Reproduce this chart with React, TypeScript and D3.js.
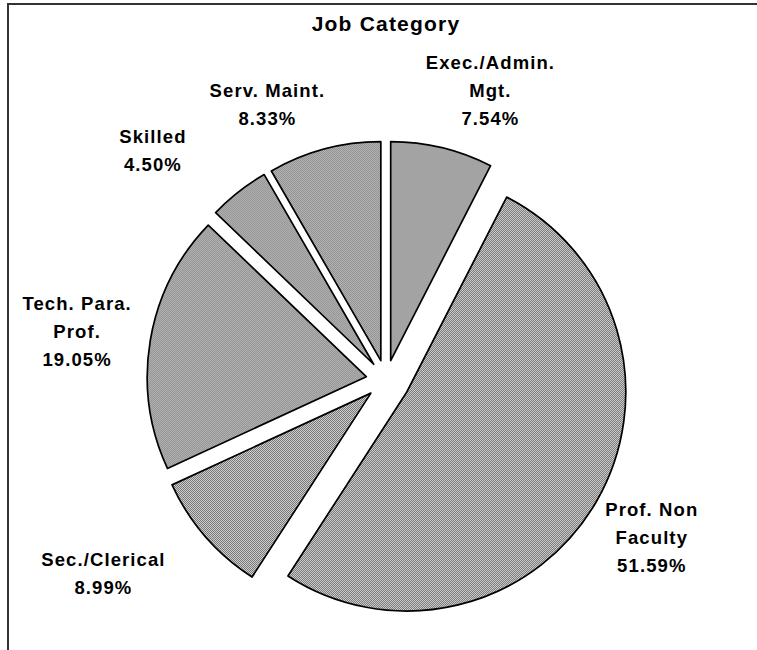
import React from "react";
import * as d3 from "d3";

const categories = ["Exec./Admin. Mgt.", "Prof. Non Faculty", "Sec./Clerical", "Tech. Para. Prof.", "Skilled", "Serv. Maint."];
const values = [7.54, 51.59, 8.99, 19.05, 4.5, 8.33];
const labelLines = [["Exec./Admin.", "Mgt."], ["Prof. Non", "Faculty"], ["Sec./Clerical"], ["Tech. Para.", "Prof."], ["Skilled"], ["Serv. Maint."]];
const title = "Job Category";

// layout
const W = 757, H = 650;
const cx = 386, cy = 380;
const radius = 219;
const explode = [20, 24, 20, 20, 20, 20];
const labelR = 300;
const labelNudge: [number, number][] = [[34, 2], [6, 7], [-56, -4], [-13, 1], [-48, 6], [-41, 14]];
const lineH = 28;
const font = "'Liberation Sans', Arial, sans-serif";

export default function App() {
  const pie = d3.pie<number>().sort(null).value((d) => d);
  const arcs = pie(values);
  const arcGen = d3.arc<d3.PieArcDatum<number>>().innerRadius(0).outerRadius(radius);

  return (
    <div style={{ position: "fixed", left: 0, top: 0, width: W, height: H, background: "#fff" }}>
      <svg width={W} height={H} style={{ display: "block" }}>
        <defs>
          <pattern id="dots" x={0} y={0} width={2} height={2} patternUnits="userSpaceOnUse">
            <rect x={0} y={0} width={2} height={2} fill="#e8e8e8" />
            <rect x={0} y={0} width={1} height={1} fill="#5e5e5e" />
            <rect x={1} y={1} width={1} height={1} fill="#5e5e5e" />
          </pattern>
        </defs>
        <path d={`M8,${H + 5} V4 H${W + 5}`} fill="none" stroke="#333" strokeWidth={2} />
        <text x={386} y={31} textAnchor="middle" fontFamily={font} fontWeight="bold" fontSize={21} letterSpacing={1.2}>
          {title}
        </text>
        {arcs.map((a, i) => {
          const mid = (a.startAngle + a.endAngle) / 2;
          const dx = Math.sin(mid) * explode[i];
          const dy = -Math.cos(mid) * explode[i];
          return (
            <path key={categories[i]} d={arcGen(a) || ""} transform={`translate(${cx + dx},${cy + dy})`} fill="url(#dots)" stroke="#000" strokeWidth={1.7} strokeLinejoin="round" />
          );
        })}
        {arcs.map((a, i) => {
          const mid = (a.startAngle + a.endAngle) / 2;
          const lx = cx + Math.sin(mid) * labelR + labelNudge[i][0];
          const ly = cy - Math.cos(mid) * labelR + labelNudge[i][1];
          const lines = [...labelLines[i], values[i].toFixed(2) + "%"];
          const top = ly - ((lines.length - 1) * lineH) / 2 + 7;
          return (
            <text key={"l" + i} x={lx} textAnchor="middle" fontFamily={font} fontWeight="bold" fontSize={18.5} letterSpacing={1.1}>
              {lines.map((t, j) => (
                <tspan key={j} x={lx} y={top + j * lineH}>{t}</tspan>
              ))}
            </text>
          );
        })}
      </svg>
    </div>
  );
}
